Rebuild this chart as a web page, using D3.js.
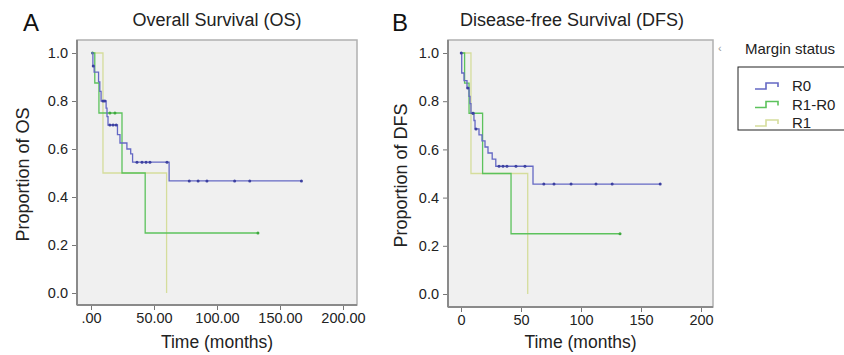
<!DOCTYPE html>
<html>
<head>
<meta charset="utf-8">
<script src="https://cdn.jsdelivr.net/npm/d3@7"></script>
<style>
  body { margin: 0; background: #fff; }
  svg { font-family: "Liberation Sans", Arial, sans-serif; }
</style>
</head>
<body>
<svg id="chart" width="844" height="355"></svg>
<script>
// Overall survival (months, proportion)
const osR0Times = [0, 1.5, 2.5, 6, 7, 8, 12, 12.7, 13.5, 21, 23, 28.5, 31.5, 33, 62];
const osR0Surv = [1.0, 0.946, 0.92, 0.88, 0.84, 0.80, 0.77, 0.735, 0.70, 0.66, 0.625, 0.60, 0.58, 0.545, 0.467];
const osR0Censor = [1.8, 9.5, 11, 15, 17.5, 20, 36.5, 40.5, 43.7, 46.8, 60.3, 78, 85, 92, 114, 126, 167];
const osR1R0Times = [0, 3, 6.3, 24.6, 43];
const osR1R0Surv = [1.0, 0.875, 0.75, 0.5, 0.25];
const osR1R0Censor = [1.2, 15, 19, 132.5];
const osR1Times = [0, 9.5, 60];
const osR1Surv = [1.0, 0.5, 0.0];
const osR1Censor = [];

// Disease-free survival
const dfsR0Times = [0, 0.6, 2.5, 5, 6.7, 7.5, 8.3, 10.8, 11.7, 15, 17.5, 20, 22.5, 26, 29, 60];
const dfsR0Surv = [1.0, 0.917, 0.885, 0.855, 0.82, 0.79, 0.75, 0.72, 0.685, 0.66, 0.635, 0.61, 0.585, 0.56, 0.53, 0.456];
const dfsR0Censor = [0.2, 5.6, 10, 12.5, 31.7, 35, 38.3, 45.8, 53.3, 69, 77.5, 91.7, 112.5, 126, 166];
const dfsR1R0Times = [0, 3, 6.7, 18, 41.7];
const dfsR1R0Surv = [1.0, 0.875, 0.75, 0.5, 0.25];
const dfsR1R0Censor = [10, 132.5];
const dfsR1Times = [0, 8.3, 55.6];
const dfsR1Surv = [1.0, 0.5, 0.0];
const dfsR1Censor = [];

const yTicks = [0, 0.2, 0.4, 0.6, 0.8, 1.0];
const yTickLabels = ["0.0", "0.2", "0.4", "0.6", "0.8", "1.0"];
const xTicks = [0, 50, 100, 150, 200];
const osXTickLabels = [".00", "50.00", "100.00", "150.00", "200.00"];
const dfsXTickLabels = ["0", "50", "100", "150", "200"];

const groups = ["R0", "R1-R0", "R1"];
const colors = { "R0": "#6468c4", "R1-R0": "#5cc25c", "R1": "#d5dd9c" };
const markColors = { "R0": "#3c40a0", "R1-R0": "#3fa83f", "R1": "#c8d290" };

const svg = d3.select("#chart");

function survAt(times, surv, t) {
  let s = surv[0];
  for (let i = 0; i < times.length; i++) if (times[i] <= t) s = surv[i];
  return s;
}

function drawPanel(cfg) {
  const x = d3.scaleLinear().domain([0, 200]).range(cfg.xRange);
  const y = d3.scaleLinear().domain([0, 1]).range(cfg.yRange);
  const f = cfg.frame;

  svg.append("rect")
    .attr("x", f.left).attr("y", f.top)
    .attr("width", f.right - f.left).attr("height", f.bottom - f.top)
    .attr("fill", "#f0f0f0").attr("stroke", "#b0b0b0").attr("stroke-width", 1.5);

  const g = svg.append("g");

  cfg.series.forEach(s => {
    const end = s.censor.length ? d3.max(s.censor) : s.times[s.times.length - 1];
    const pts = [];
    s.times.forEach((t, i) => {
      if (i > 0) pts.push([t, s.surv[i - 1]]);
      pts.push([t, s.surv[i]]);
    });
    if (end > s.times[s.times.length - 1]) pts.push([end, s.surv[s.surv.length - 1]]);
    g.append("path")
      .attr("d", d3.line().x(d => x(d[0])).y(d => y(d[1]))(pts))
      .attr("fill", "none").attr("stroke", colors[s.name]).attr("stroke-width", 1.3);
    g.selectAll(null).data(s.censor).enter().append("circle")
      .attr("cx", d => x(d))
      .attr("cy", d => y(survAt(s.times, s.surv, d)))
      .attr("r", 1.5)
      .attr("fill", markColors[s.name]);
  });

  // axes lines
  svg.append("line").attr("x1", f.left).attr("x2", f.left).attr("y1", f.top).attr("y2", f.bottom)
    .attr("stroke", "#8a8a8a").attr("stroke-width", 2);
  svg.append("line").attr("x1", f.left).attr("x2", f.right).attr("y1", f.bottom).attr("y2", f.bottom)
    .attr("stroke", "#8a8a8a").attr("stroke-width", 2);

  const yAxis = svg.append("g").attr("transform", `translate(${f.left - 1},0)`)
    .call(d3.axisLeft(y).tickValues(yTicks).tickSize(4).tickPadding(4)
      .tickFormat((d, i) => yTickLabels[i]));
  yAxis.select(".domain").remove();
  yAxis.selectAll("line").attr("stroke", "#777");
  yAxis.selectAll("text").attr("font-size", 14.5).attr("fill", "#222")
    .attr("font-family", "Liberation Sans, Arial, sans-serif");

  const xAxis = svg.append("g").attr("transform", `translate(0,${f.bottom + 1})`)
    .call(d3.axisBottom(x).tickValues(xTicks).tickSize(4).tickPadding(3)
      .tickFormat((d, i) => cfg.xLabels[i]));
  xAxis.select(".domain").remove();
  xAxis.selectAll("line").attr("stroke", "#777");
  xAxis.selectAll("text").attr("font-size", 14.5).attr("fill", "#222")
    .attr("font-family", "Liberation Sans, Arial, sans-serif");

  svg.append("text").attr("x", (f.left + f.right) / 2).attr("y", 348)
    .attr("text-anchor", "middle").attr("font-size", 17.5).attr("fill", "#222")
    .text("Time (months)");
  svg.append("text")
    .attr("transform", `translate(${cfg.yLabelX},${(f.top + f.bottom) / 2 + 2}) rotate(-90)`)
    .attr("text-anchor", "middle").attr("font-size", 18).attr("fill", "#222")
    .text(cfg.yTitle);
  svg.append("text").attr("x", cfg.titleX).attr("y", 26)
    .attr("text-anchor", "middle").attr("font-size", 18).attr("fill", "#222")
    .text(cfg.title);
  svg.append("text").attr("x", cfg.letterX).attr("y", 31)
    .attr("font-size", 24).attr("fill", "#111")
    .text(cfg.letter);
}

drawPanel({
  xRange: [91, 343], yRange: [293, 53],
  frame: { left: 77, top: 40, right: 357, bottom: 305 },
  xLabels: osXTickLabels,
  yTitle: "Proportion of OS", yLabelX: 29,
  title: "Overall Survival (OS)", titleX: 217,
  letter: "A", letterX: 23,
  series: [
    { name: "R1", times: osR1Times, surv: osR1Surv, censor: osR1Censor },
    { name: "R1-R0", times: osR1R0Times, surv: osR1R0Surv, censor: osR1R0Censor },
    { name: "R0", times: osR0Times, surv: osR0Surv, censor: osR0Censor }
  ]
});

drawPanel({
  xRange: [461, 701], yRange: [294, 53],
  frame: { left: 448, top: 40, right: 713, bottom: 307 },
  xLabels: dfsXTickLabels,
  yTitle: "Proportion of DFS", yLabelX: 407,
  title: "Disease-free Survival (DFS)", titleX: 572,
  letter: "B", letterX: 392,
  series: [
    { name: "R1", times: dfsR1Times, surv: dfsR1Surv, censor: dfsR1Censor },
    { name: "R1-R0", times: dfsR1R0Times, surv: dfsR1R0Surv, censor: dfsR1R0Censor },
    { name: "R0", times: dfsR0Times, surv: dfsR0Surv, censor: dfsR0Censor }
  ]
});

// legend
svg.append("text").attr("x", 718).attr("y", 52).attr("font-size", 11).attr("fill", "#999").text("‹");
svg.append("text").attr("x", 745).attr("y", 54).attr("font-size", 15).attr("fill", "#222").text("Margin status");
svg.append("rect").attr("x", 738).attr("y", 67).attr("width", 120).attr("height", 63)
  .attr("fill", "#fff").attr("stroke", "#222").attr("stroke-width", 1);
const leg = svg.append("g");
groups.forEach((name, i) => {
  const cy = 86 + i * 18.5;
  const iconPts = [[755, cy + 3], [766, cy + 3], [766, cy - 3], [778, cy - 3], [778, cy + 1]];
  leg.append("path").attr("d", d3.line()(iconPts))
    .attr("fill", "none").attr("stroke", colors[name]).attr("stroke-width", 1.6);
  leg.append("text").attr("x", 792).attr("y", cy + 5).attr("font-size", 15).attr("fill", "#222").text(name);
});
</script>
</body>
</html>
